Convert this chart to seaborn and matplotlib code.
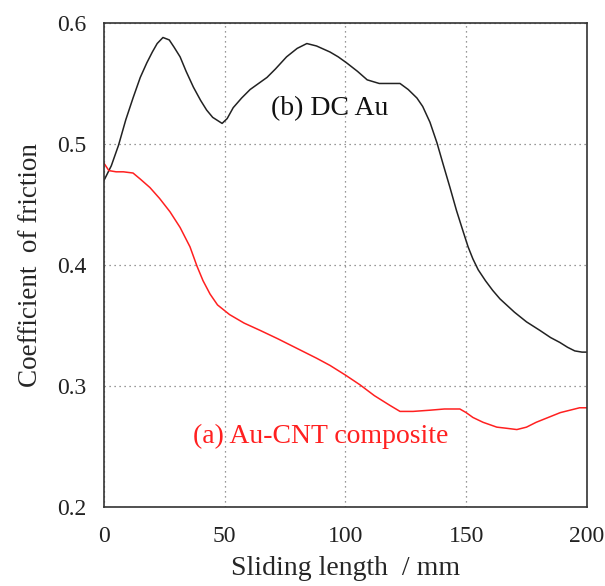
import matplotlib
matplotlib.use("Agg")
import matplotlib.pyplot as plt
import seaborn as sns
import pandas as pd

# DC Au (b) - black curve
dc_x = [0, 3, 6, 9, 12, 15, 17.7, 20, 22, 24.4, 27, 29, 31.5, 34, 37, 40, 42.5, 45, 48.9, 51,
        53.5, 57, 60.5, 64, 67.5, 71, 75.6, 80, 84, 88, 93.6, 97, 100.5, 105, 109, 114,
        118, 122.6, 126, 129.6, 132, 135, 137.9, 140.5, 143.3, 146, 148.7, 150.8, 152.8,
        155, 158, 161, 164, 170, 175, 180.5, 185, 188.8, 192, 195, 198, 200]
dc_y = [0.470, 0.482, 0.499, 0.520, 0.538, 0.555, 0.567, 0.576, 0.583, 0.588, 0.586, 0.580,
        0.572, 0.560, 0.547, 0.536, 0.528, 0.522, 0.517, 0.521,
        0.530, 0.538, 0.545, 0.550, 0.555, 0.562, 0.572, 0.579, 0.583, 0.581, 0.576, 0.572,
        0.567, 0.560, 0.553, 0.550, 0.550, 0.550, 0.545, 0.538, 0.531, 0.518, 0.501, 0.483,
        0.464, 0.445, 0.428, 0.415, 0.405, 0.396, 0.387, 0.379, 0.372, 0.361, 0.353, 0.346,
        0.340, 0.336, 0.332, 0.329, 0.328, 0.328]

# Au-CNT composite (a) - red curve
cnt_x = [0, 2, 5, 8, 12, 15, 19, 23, 27.3, 31.5, 35.6, 38.5, 41, 43.9, 47, 52, 58, 64.6,
         72, 81, 88, 93.6, 100, 106, 112, 118.4, 122.6, 128, 135, 141, 147.4, 150, 152.8,
         157, 162.7, 167, 171, 175, 179, 184, 189, 193, 197, 200]
cnt_y = [0.484, 0.478, 0.477, 0.477, 0.476, 0.471, 0.464, 0.455, 0.444, 0.431, 0.415, 0.399,
         0.387, 0.376, 0.367, 0.359, 0.352, 0.346, 0.339, 0.330, 0.323, 0.317, 0.309, 0.301,
         0.292, 0.284, 0.279, 0.279, 0.280, 0.281, 0.281, 0.278, 0.274, 0.270, 0.266, 0.265,
         0.264, 0.266, 0.270, 0.274, 0.278, 0.280, 0.282, 0.282]

x_ticks = [0, 50, 100, 150, 200]
y_ticks = [0.2, 0.3, 0.4, 0.5, 0.6]
label_b = "(b) DC Au"
label_a = "(a) Au-CNT composite"

sns.set_style("white")
plt.rcParams['font.family'] = ['Liberation Serif', 'DejaVu Serif']

fig = plt.figure(figsize=(6.05, 5.86), dpi=100)
ax = fig.add_axes([0.172, 0.1348, 0.798, 0.826])

df_dc = pd.DataFrame({"x": dc_x, "y": dc_y})
df_cnt = pd.DataFrame({"x": cnt_x, "y": cnt_y})
sns.lineplot(data=df_dc, x="x", y="y", ax=ax, color="#222222", linewidth=1.1, sort=False)
sns.lineplot(data=df_cnt, x="x", y="y", ax=ax, color="#ff2020", linewidth=1.1, sort=False)

ax.set_xlim(0, 200)
ax.set_ylim(0.2, 0.6)
ax.set_xticks(x_ticks)
ax.set_yticks(y_ticks)
ax.set_xticklabels([str(v) for v in x_ticks])
ax.set_yticklabels([f"{v:.1f}" for v in y_ticks])
ax.grid(True, linestyle=(0, (1, 3)), color="#777777", linewidth=0.9)
ax.tick_params(direction="in", length=12, width=1.0, labelsize=17, colors="#222222")
ax.tick_params(axis="y", pad=13)
ax.tick_params(axis="x", pad=14)
for s in ax.spines.values():
    s.set_color("#333333")
    s.set_linewidth(1.2)

ax.set_xlabel("Sliding length  / mm", fontsize=20, labelpad=6)
ax.set_ylabel("Coefficient  of friction", fontsize=19.5, labelpad=10)

ax.text(93.6, 0.529, label_b, fontsize=20, color="#111111", ha="center", va="center")
ax.text(89.9, 0.258, label_a, fontsize=20, color="#ff2020", ha="center", va="center")

fig.savefig("out.png", dpi=100)
